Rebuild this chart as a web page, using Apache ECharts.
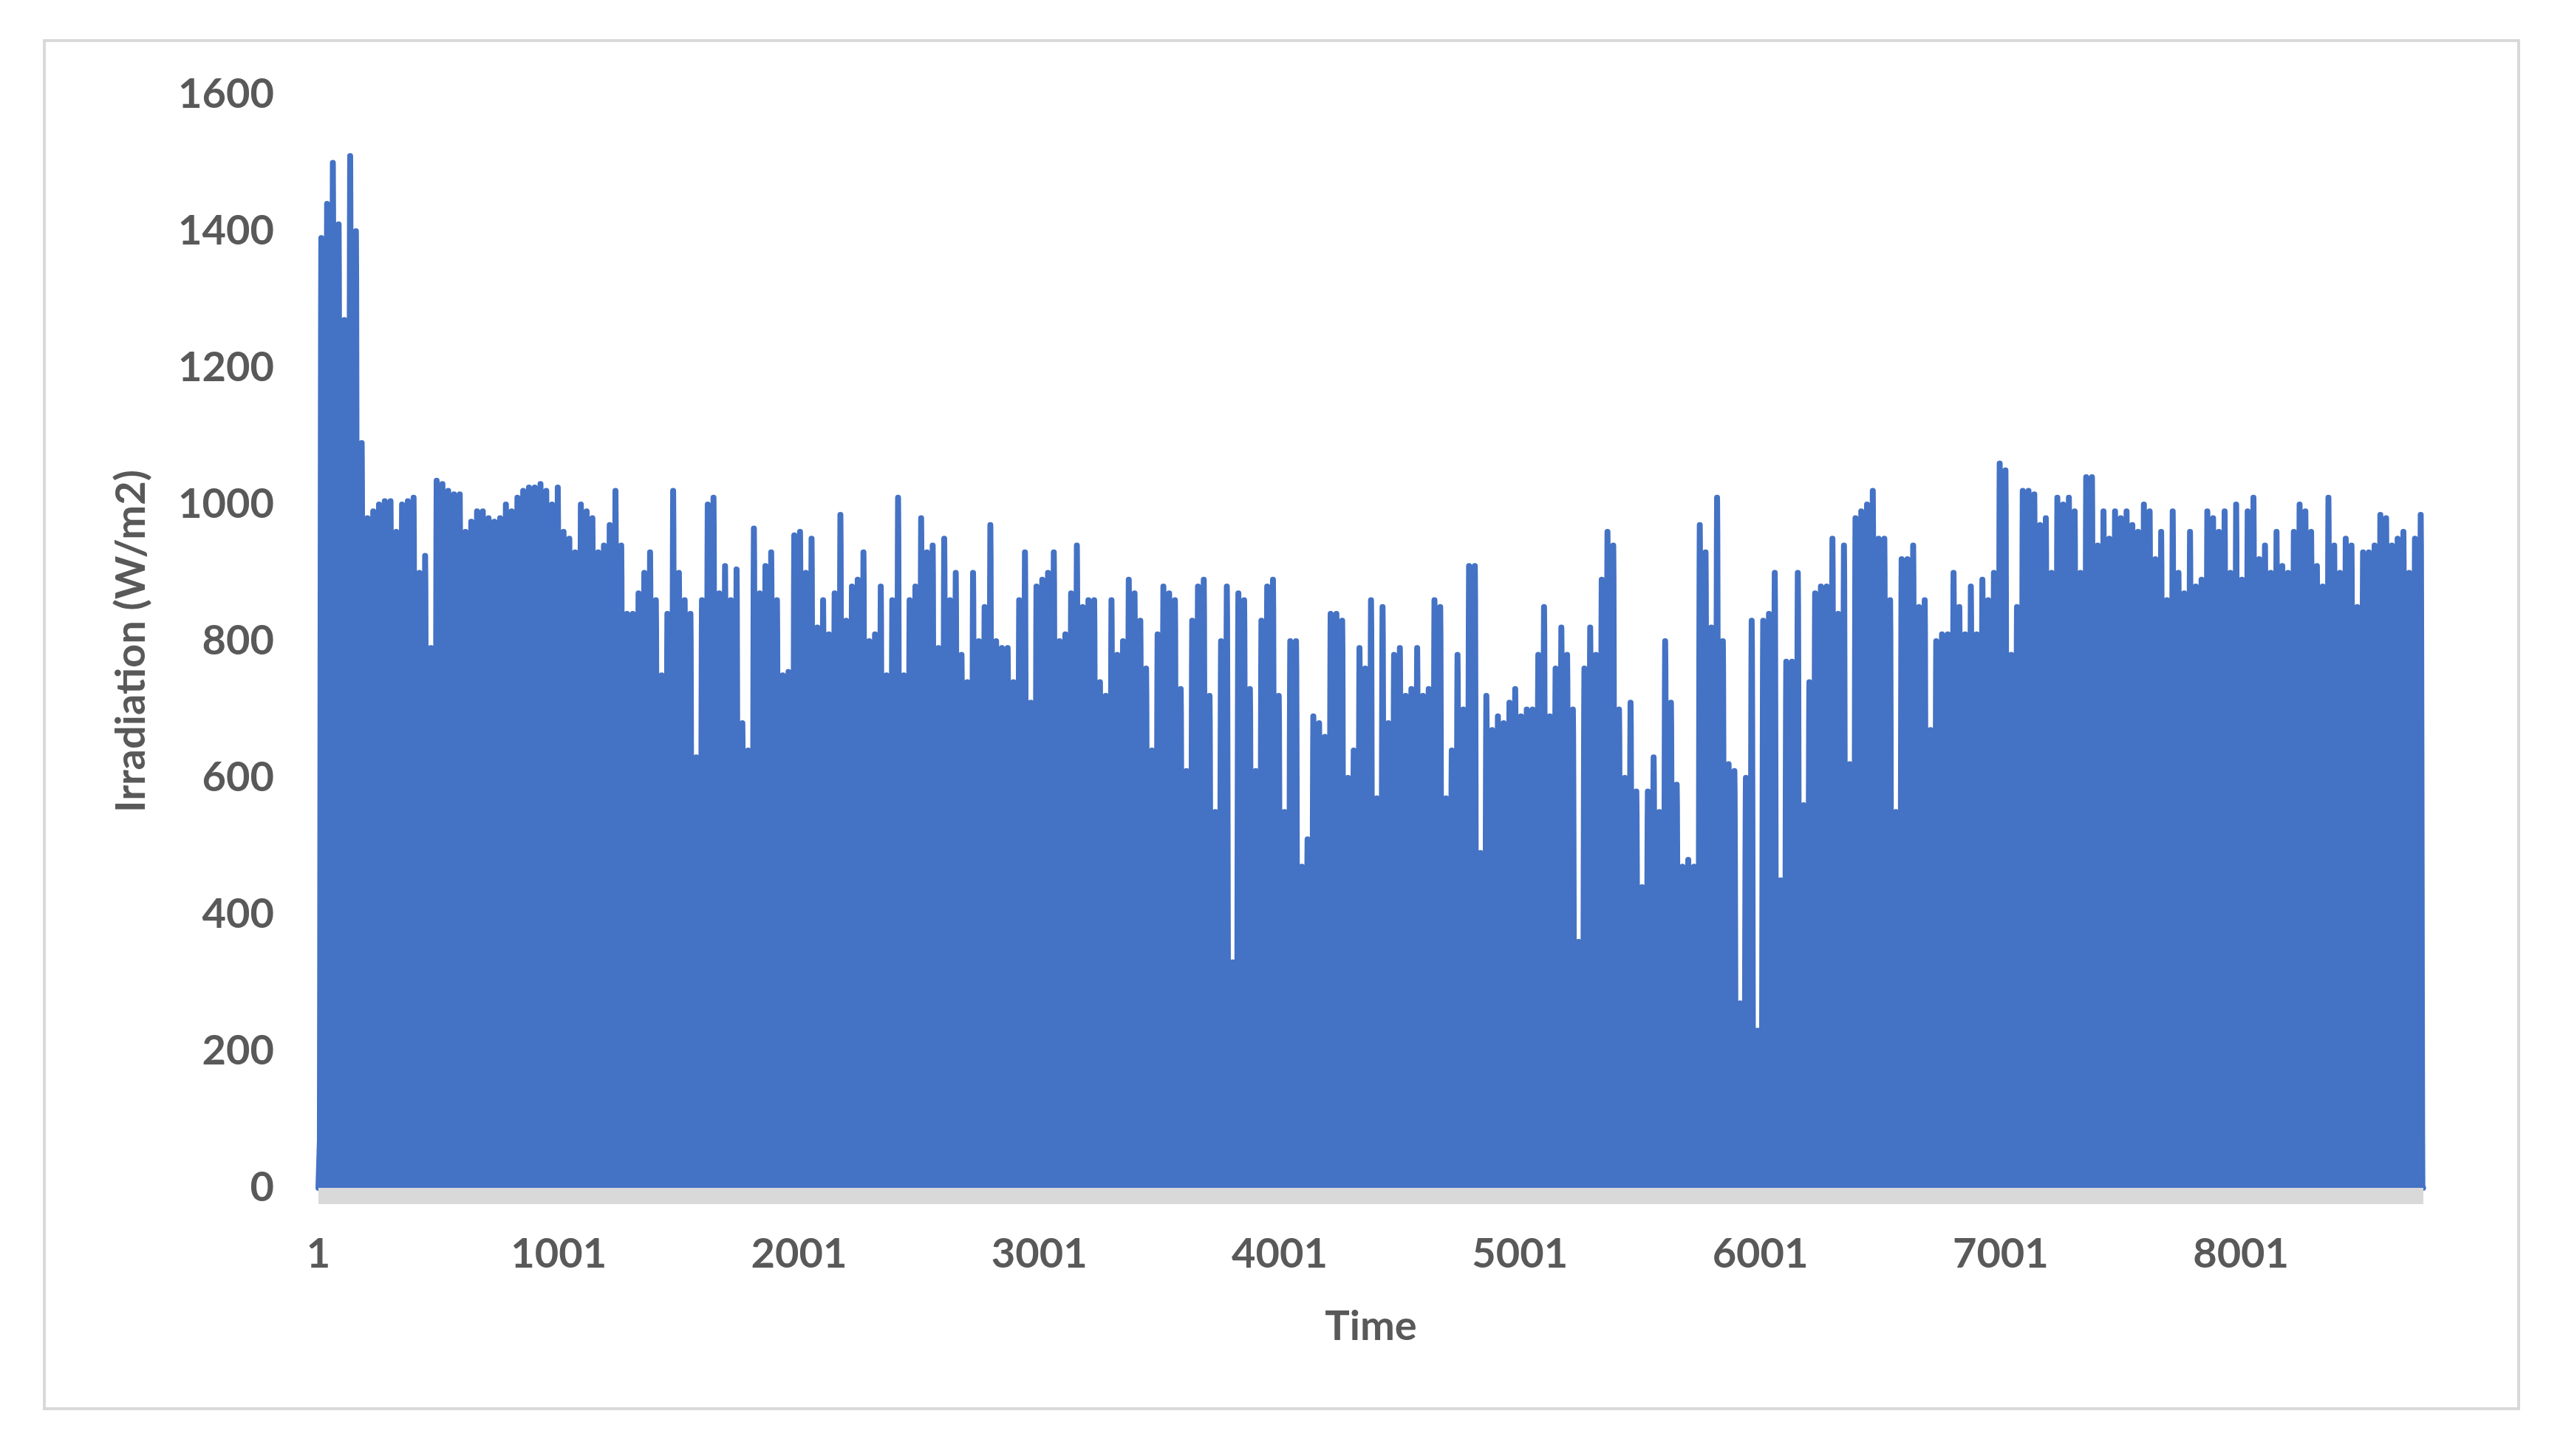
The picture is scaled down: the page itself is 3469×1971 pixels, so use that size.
<!DOCTYPE html>
<html>
<head>
<meta charset="utf-8">
<script src="https://cdn.jsdelivr.net/npm/echarts@6/dist/echarts.min.js"></script>
<style>html,body{margin:0;background:#fff}#chart{width:3469px;height:1971px}</style>
</head>
<body>
<div id="chart"></div>
<script>
// daily peak irradiation (W/m2), one per day
var dailyPeaks = [
  1390,1440,1500,1410,1270,1510,1400,1090,980,990,
  1000,1005,1005,960,1000,1005,1010,900,925,790,1035,1030,1020,1015,1015,960,975,990,990,980,975,980,1000,990,1010,1020,1025,1025,1030,1020,1000,1025,
  960,950,930,1000,990,980,930,940,970,1020,940,840,840,870,900,930,860,750,840,
  1020,900,860,840,630,860,1000,1010,870,910,860,905,680,640,965,
  870,910,930,860,750,755,955,960,900,950,820,860,810,870,985,830,880,890,930,800,810,880,750,860,1010,
  750,860,880,980,930,940,790,950,860,900,780,740,900,800,850,970,800,790,790,740,860,930,710,880,890,900,930,800,810,870,
  940,850,860,860,740,720,860,780,800,890,870,830,760,640,810,880,870,860,730,610,830,880,890,720,550,800,880,
  330,870,860,730,610,830,880,890,720,550,800,800,470,510,690,680,660,840,840,830,600,640,790,760,860,570,850,680,780,790,720,730,790,720,730,860,850,570,640,780,700,910,
  910,490,720,670,690,680,710,730,690,700,700,780,850,690,760,820,780,700,360,
  760,820,780,890,960,940,700,600,710,580,440,580,630,550,800,710,590,470,480,470,970,930,820,1010,800,620,610,270,600,830,
  230,830,840,900,450,770,770,900,560,740,870,880,880,950,840,940,620,980,990,1000,1020,950,950,860,550,920,920,940,850,860,670,800,810,810,900,850,810,880,810,890,860,900,
  1060,1050,780,850,1020,1020,1015,970,980,900,1010,1000,1010,990,900,1040,1040,940,990,950,
  990,980,990,970,960,1000,990,920,960,860,990,900,870,960,880,890,990,980,960,990,
  900,1000,890,990,1010,920,940,900,960,910,900,960,1000,990,960,910,880,1010,940,900,
  950,940,850,930,930,940,985,980,940,950,960,900,950,985
];
// hourly fraction of the daily peak (typical clear-day profile)
var hourShape = [0,0,0,0,0,0,0.05,0.2,0.4,0.6,0.78,0.92,1,0.95,0.82,0.65,0.45,0.25,0.08,0,0,0,0,0];

var hours = [];
var irradiation = [];
for (var d = 0; d < dailyPeaks.length; d++) {
  for (var h = 0; h < 24; h++) {
    hours.push(String(d * 24 + h + 1));
    irradiation.push(Math.round(dailyPeaks[d] * hourShape[h]));
  }
}

var chart = echarts.init(document.getElementById('chart'));
var font = 'Lato';
chart.setOption({
  animation: false,
  graphic: [{
    type: 'rect', shape: {x: 60, y: 55, width: 3349, height: 1852},
    style: {fill: 'none', stroke: '#d9d9d9', lineWidth: 4}
  }, {
    type: 'rect', z: 10, shape: {x: 431, y: 1608, width: 2849, height: 22},
    style: {fill: '#d9d9d9'}
  }],
  grid: {left: 431, right: 189, top: 128, bottom: 363},
  xAxis: {
    type: 'category', data: hours, boundaryGap: false,
    name: 'Time', nameLocation: 'middle', nameGap: 160,
    nameTextStyle: {fontFamily: font, fontWeight: 'bold', fontSize: 56, color: '#595959'},
    axisLine: {show: false},
    axisTick: {show: false},
    axisLabel: {interval: 999, margin: 62, fontFamily: font, fontWeight: 'bold', fontSize: 56, color: '#595959'}
  },
  yAxis: {
    type: 'value', min: 0, max: 1600, interval: 200,
    name: 'Irradiation (W/m2)', nameLocation: 'middle', nameGap: 225,
    nameTextStyle: {fontFamily: font, fontWeight: 'bold', fontSize: 56, color: '#595959'},
    splitLine: {show: false}, axisLine: {show: false}, axisTick: {show: false},
    axisLabel: {margin: 60, fontFamily: font, fontWeight: 'bold', fontSize: 56, color: '#595959',
      formatter: function (v) { return String(v); }}
  },
  series: [{
    type: 'line', data: irradiation, showSymbol: false, sampling: null,
    lineStyle: {color: '#4472c4', width: 8, join: 'round', cap: 'round'},
    areaStyle: {color: '#4472c4', opacity: 1},
    itemStyle: {color: '#4472c4'}
  }]
});
</script>
</body>
</html>
